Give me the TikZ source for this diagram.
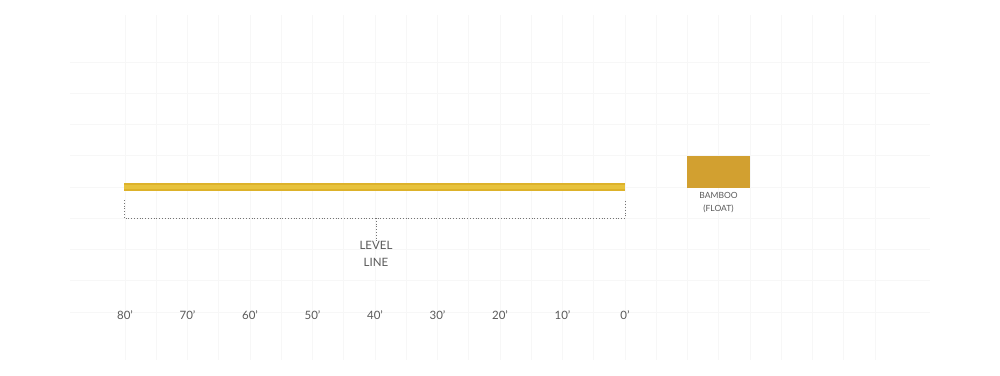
\documentclass[tikz,border=0pt]{standalone}
\usepackage{fontspec}
\setmainfont{Lato}
\definecolor{gridc}{HTML}{F7F7F7}
\definecolor{txt}{HTML}{5A5A5A}
\definecolor{bardark}{HTML}{DDB22A}
\definecolor{barlight}{HTML}{E7C23C}
\definecolor{bamboo}{HTML}{D2A030}
\tikzset{
  lbl/.style={text=txt, font=\fontsize{11.5}{13}\selectfont, inner sep=0pt},
  smalllbl/.style={text=txt, font=\fontsize{8.5}{13}\selectfont, inner sep=0pt, align=center},
  midlbl/.style={text=txt, font=\fontsize{11.5}{17}\selectfont, inner sep=0pt, align=center},
  dotline/.style={draw=black!55, line width=0.8pt, dash pattern=on 0.8pt off 2pt},
  gridline/.style={draw=gridc, line width=0.8pt}
}
\begin{document}
\begin{tikzpicture}[x=1pt,y=-1pt]
\useasboundingbox[fill=white] (0,0) rectangle (1000,375);
% faint grid
\foreach \i in {0,...,24}{
  \draw[gridline] ({125+31.25*\i},15) -- ({125+31.25*\i},360);
}
\foreach \j in {0,...,8}{
  \draw[gridline] (70,{62+31.25*\j}) -- (930,{62+31.25*\j});
}
% rod
\fill[bardark] (124,183) rectangle (625,190.5);
\fill[barlight] (124,185) rectangle (625,188.5);
% bracket
\coordinate (bL) at (124,200);
\coordinate (bLb) at (124,218);
\coordinate (bR) at (625,200);
\coordinate (bRb) at (625,218);
\coordinate (bM) at (376,218);
\node[midlbl] (level) at (376,254) {LEVEL\\LINE};
\draw[dotline] (bL) -- (bLb) -- (bRb) -- (bR);
\draw[dotline] (bM) -- (level.north);
% bamboo float
\node[fill=bamboo, minimum width=63pt, minimum height=32pt, inner sep=0pt] (float) at (718.5,172) {};
\node[smalllbl, anchor=north] (floatlbl) at (718.5,192) {BAMBOO\\(FLOAT)};
% distance labels
\foreach \n/\t [count=\k from 0] in {a/80',b/70',c/60',d/50',e/40',f/30',g/20',h/10',z/0'}{
  \node[lbl] (d\n) at ({125+62.5*\k},315) {\t};
}
\end{tikzpicture}
\end{document}
